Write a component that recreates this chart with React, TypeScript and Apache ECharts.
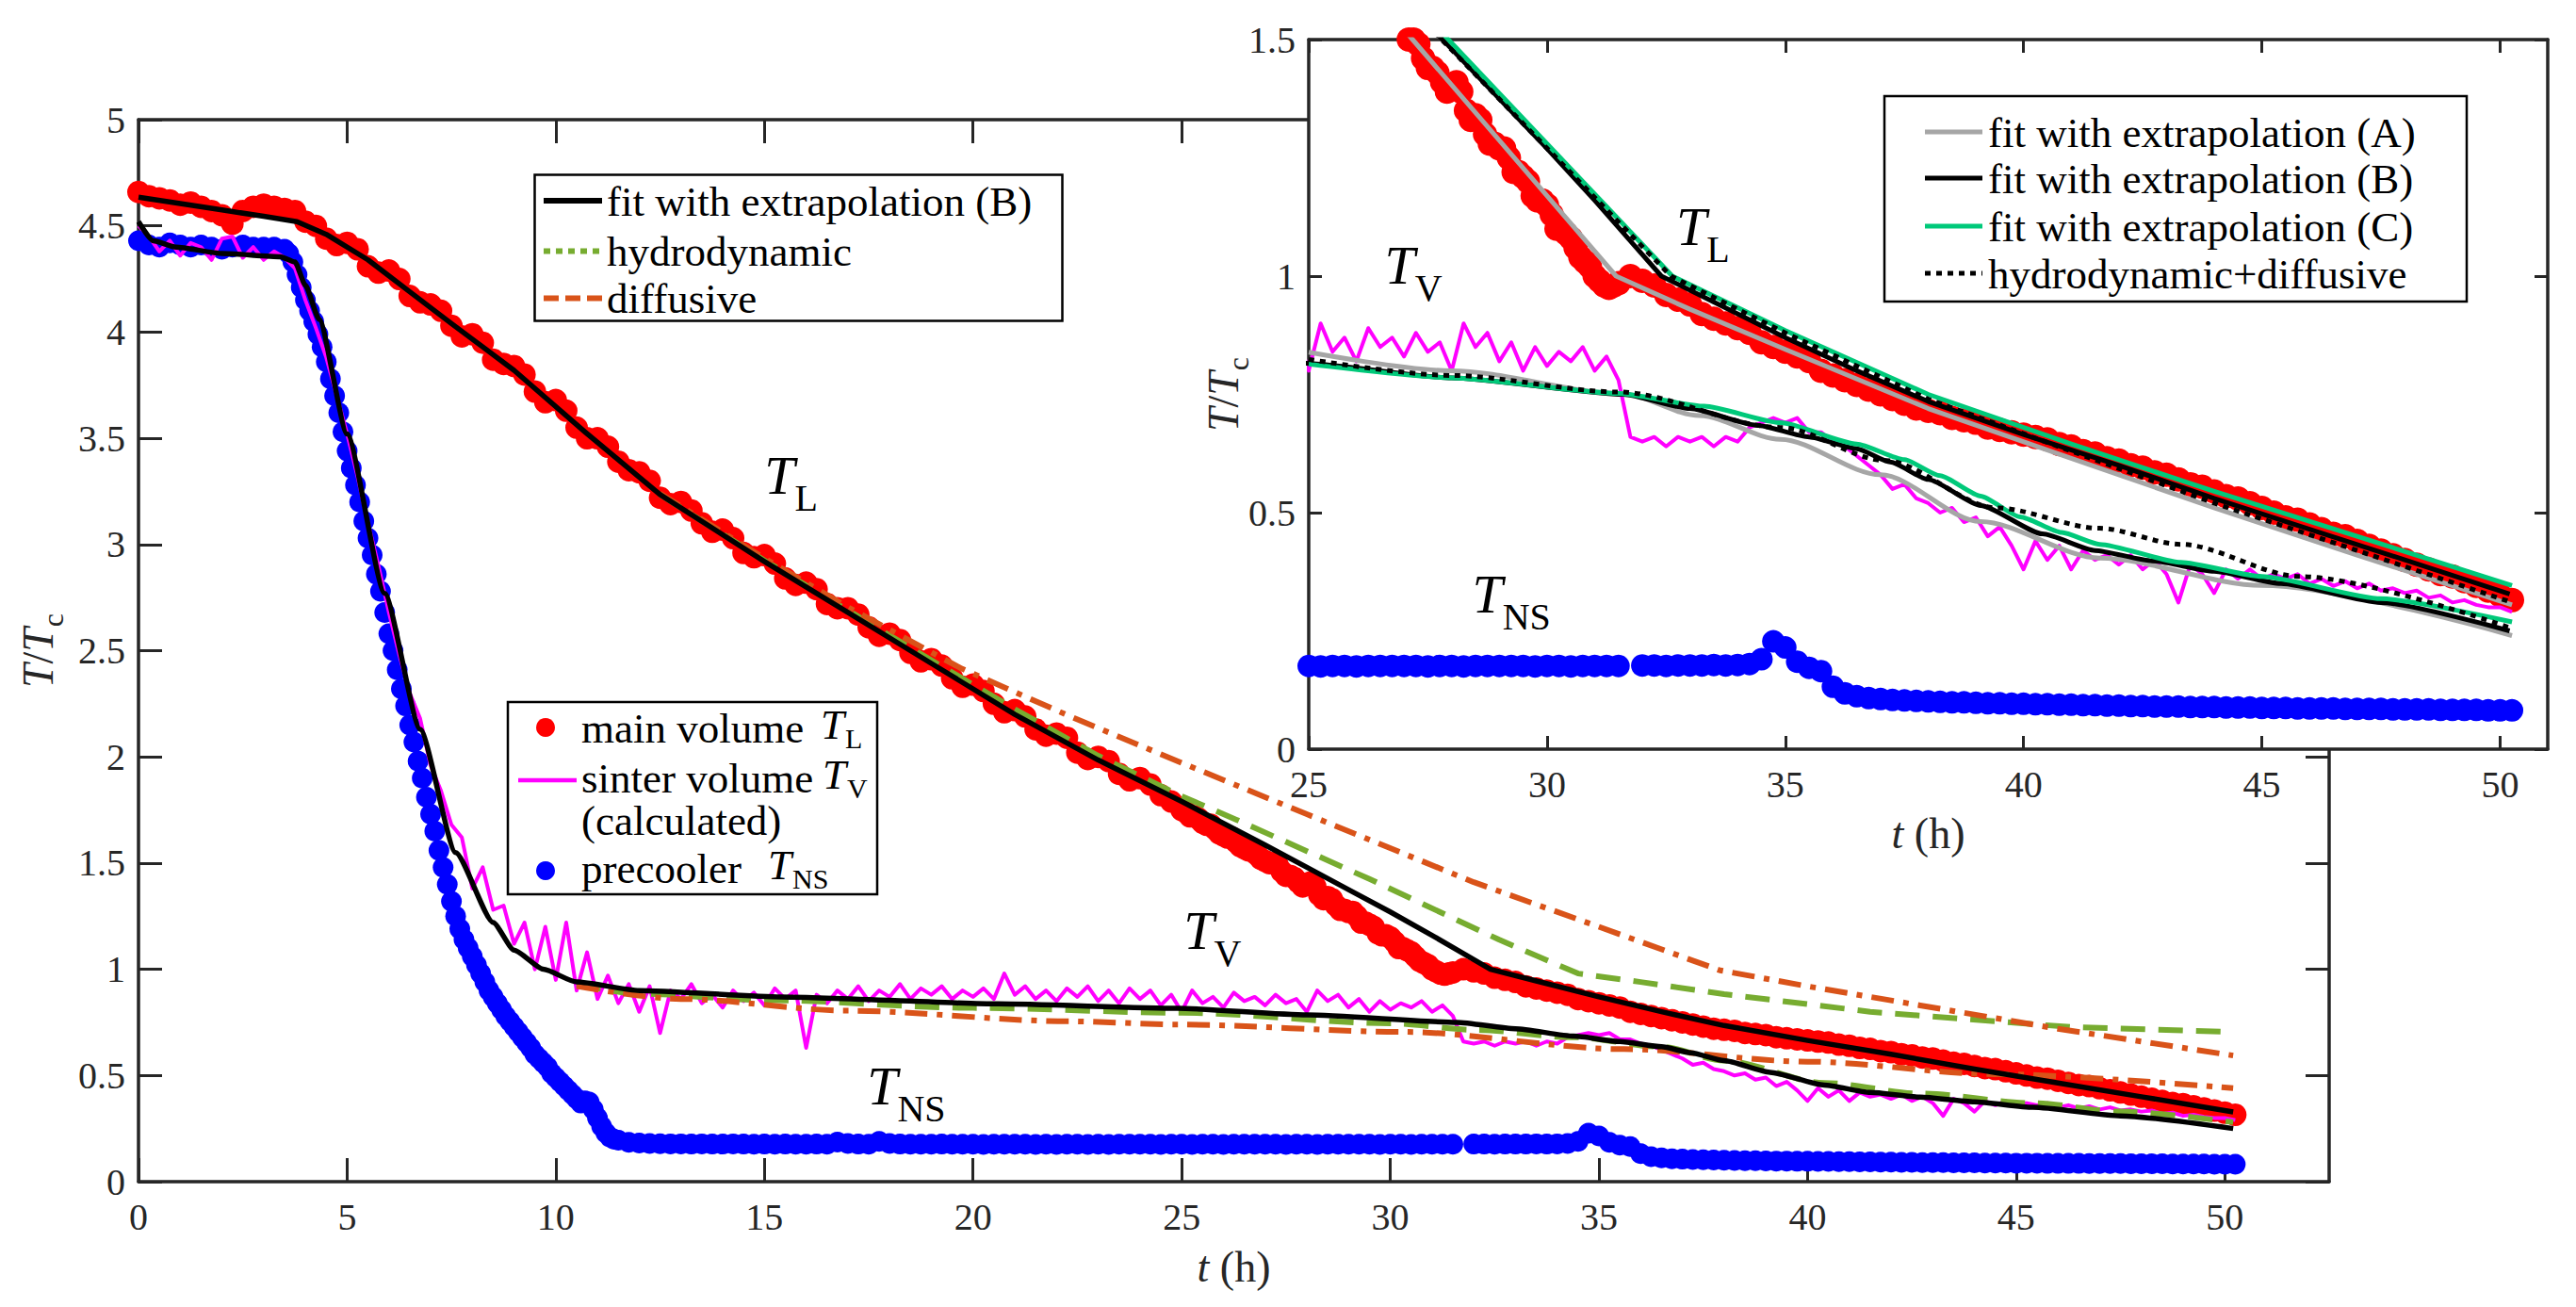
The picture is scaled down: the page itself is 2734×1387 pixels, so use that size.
import React, { useEffect, useRef } from "react";
import * as echarts from "echarts";

const CANVAS_W = 2734;
const CANVAS_H = 1387;
const SERIF = "Liberation Serif";
const INK = "#262626";

const RED = "#ff0000";
const BLUE = "#0000ff";
const MAGENTA = "#ff00ff";
const BLACK = "#000000";
const HYDRO_GREEN = "#77ac30";
const DIFF_ORANGE = "#d95319";
const FIT_A_GRAY = "#a6a6a6";
const FIT_C_GREEN = "#00c97a";

// Tick positions of both panels
const MAIN_T_TICKS = [0, 5, 10, 15, 20, 25, 30, 35, 40, 45, 50];
const MAIN_Y_TICKS = [0, 0.5, 1, 1.5, 2, 2.5, 3, 3.5, 4, 4.5, 5];
const INSET_T_TICKS = [25, 30, 35, 40, 45, 50];
const INSET_Y_TICKS = [0, 0.5, 1, 1.5];

// Logged readings, one every 15 min unless stated otherwise
const SAMPLE_STEP_H = 0.25;

// main volume T_L / T_c, every 15 min from 0 h to 24.75 h
const mainVolumeEarly = [
  4.66, 4.64, 4.63, 4.62, // 0 h
  4.6, 4.61, 4.59, 4.57,
  4.55, 4.51, 4.57, 4.59,
  4.6, 4.59, 4.58, 4.57,
  4.52, 4.5, 4.44, 4.41, // 4 h
  4.42, 4.39, 4.31, 4.28,
  4.29, 4.25, 4.17, 4.14,
  4.13, 4.1, 4.03, 3.98,
  3.99, 3.95, 3.87, 3.85, // 8 h
  3.84, 3.8, 3.72, 3.67,
  3.68, 3.63, 3.55, 3.5,
  3.5, 3.46, 3.39, 3.35,
  3.34, 3.3, 3.22, 3.19, // 12 h
  3.2, 3.16, 3.1, 3.06,
  3.07, 3.03, 2.96, 2.94,
  2.95, 2.91, 2.84, 2.81,
  2.82, 2.79, 2.72, 2.7, // 16 h
  2.7, 2.67, 2.61, 2.57,
  2.58, 2.55, 2.49, 2.45,
  2.46, 2.43, 2.37, 2.33,
  2.34, 2.31, 2.25, 2.21, // 20 h
  2.22, 2.19, 2.13, 2.1,
  2.11, 2.09, 2.02, 1.99,
  2.0, 1.98, 1.92, 1.89,
  1.9, 1.87, 1.82, 1.79, // 24 h
];
// main volume around the knee, every 6 min from 25 h to 31.5 h
const MAIN_KNEE_START_H = 25;
const MAIN_KNEE_STEP_H = 0.1;
const mainVolumeKnee = [
  1.75, 1.74, 1.72, 1.72, 1.71, 1.69, 1.68, 1.68, 1.66, 1.64, // 25 h
  1.63, 1.62, 1.62, 1.6, 1.58, 1.57, 1.56, 1.56, 1.54, 1.52, // 26 h
  1.51, 1.5, 1.5, 1.49, 1.46, 1.44, 1.44, 1.43, 1.41, 1.39, // 27 h
  1.4, 1.41, 1.39, 1.35, 1.33, 1.34, 1.33, 1.3, 1.28, 1.28, // 28 h
  1.27, 1.27, 1.25, 1.22, 1.22, 1.21, 1.2, 1.17, 1.16, 1.16, // 29 h
  1.15, 1.13, 1.1, 1.1, 1.09, 1.08, 1.06, 1.04, 1.03, 1.02, // 30 h
  1.0, 0.99, 0.98, 0.975, 0.98, 0.985, // 31 h
];
// main volume, every 15 min from 31.75 h
const MAIN_LATE_START_H = 31.75;
const mainVolumeLate = [
  1.0, // 31.75 h
  0.99, 0.98, 0.96, 0.95, // 32 h
  0.94, 0.92, 0.91, 0.9,
  0.89, 0.88, 0.86, 0.85,
  0.84, 0.83, 0.82, 0.8,
  0.79, 0.78, 0.77, 0.76, // 36 h
  0.75, 0.74, 0.73, 0.72,
  0.715, 0.71, 0.7, 0.695,
  0.69, 0.68, 0.675, 0.67,
  0.665, 0.66, 0.655, 0.645, // 40 h
  0.64, 0.63, 0.625, 0.615,
  0.61, 0.6, 0.595, 0.585,
  0.58, 0.57, 0.56, 0.555,
  0.545, 0.535, 0.53, 0.52, // 44 h
  0.51, 0.5, 0.49, 0.485,
  0.475, 0.465, 0.455, 0.45,
  0.44, 0.43, 0.42, 0.41,
  0.4, 0.39, 0.38, 0.37, // 48 h
  0.365, 0.355, 0.345, 0.335,
  0.325, 0.315,
];

// precooler T_NS / T_c: plateau before the drop (every 15 min from 0 h)
const precoolerEarly = [
  4.43, 4.41, 4.4, 4.42,
  4.41, 4.4, 4.41, 4.4,
  4.39, 4.4, 4.41, 4.4,
  4.4, 4.4, 4.39,
];
// fast cool-down, logged every 6 min from 3.6 h to 11.5 h
const PRECOOLER_DROP_START_H = 3.6;
const PRECOOLER_DROP_STEP_H = 0.1;
const precoolerDrop = [
  4.37, 4.33, 4.27, 4.21, 4.15, 4.1, 4.05, 3.99, 3.93, 3.86, // 3.6 h
  3.78, 3.7, 3.62, 3.53, 3.44, 3.36, 3.28, 3.2, 3.11, 3.03, // 4.6 h
  2.95, 2.86, 2.78, 2.68, 2.58, 2.5, 2.41, 2.32, 2.24, 2.15, // 5.6 h
  2.07, 1.98, 1.9, 1.81, 1.73, 1.65, 1.56, 1.48, 1.4, 1.32, // 6.6 h
  1.25, 1.19, 1.14, 1.1, 1.06, 1.02, 0.98, 0.94, 0.9, 0.87, // 7.6 h
  0.84, 0.81, 0.78, 0.755, 0.73, 0.705, 0.68, 0.655, 0.63, 0.6, // 8.6 h
  0.58, 0.56, 0.54, 0.51, 0.49, 0.47, 0.45, 0.43, 0.41, 0.39, // 9.6 h
  0.37, 0.38, 0.375, 0.34, 0.3, 0.26, 0.23, 0.21, 0.2, 0.195, // 10.6 h
];
// after the drop, every 15 min from 11.75 h (null: no reading)
const PRECOOLER_LATE_START_H = 11.75;
const precoolerLate = [
  0.185, // 11.75 h
  0.182, 0.18, 0.179, 0.178, // 12 h
  0.178, 0.177, 0.178, 0.177,
  0.177, 0.178, 0.177, 0.176,
  0.177, 0.176, 0.177, 0.176,
  0.176, 0.177, 0.176, 0.186, // 16 h
  0.18, 0.177, 0.176, 0.19,
  0.18, 0.177, 0.176, 0.176,
  0.176, 0.177, 0.176, 0.176,
  0.176, 0.175, 0.176, 0.176, // 20 h
  0.176, 0.176, 0.175, 0.176,
  0.175, 0.176, 0.176, 0.175,
  0.176, 0.175, 0.176, 0.176,
  0.176, 0.176, 0.175, 0.176, // 24 h
  0.176, 0.175, 0.176, 0.176,
  0.175, 0.176, 0.176, 0.176,
  0.176, 0.176, 0.175, 0.176,
  0.176, 0.175, 0.176, 0.176, // 28 h
  0.176, 0.176, 0.176, 0.175,
  0.176, 0.176, 0.175, 0.176,
  0.176, 0.176, 0.176, null,
  0.177, 0.177, 0.176, 0.177, // 32 h
  0.177, 0.177, 0.178, 0.177,
  0.178, 0.18, 0.19, 0.228,
  0.215, 0.185, 0.172, 0.165,
  0.132, 0.118, 0.112, 0.108, // 36 h
  0.106, 0.104, 0.103, 0.102,
  0.101, 0.1, 0.099, 0.099,
  0.098, 0.097, 0.097, 0.096,
  0.096, 0.095, 0.095, 0.094, // 40 h
  0.094, 0.093, 0.093, 0.092,
  0.092, 0.091, 0.091, 0.09,
  0.09, 0.09, 0.089, 0.089,
  0.089, 0.088, 0.088, 0.088, // 44 h
  0.087, 0.087, 0.087, 0.086,
  0.086, 0.086, 0.086, 0.085,
  0.085, 0.085, 0.085, 0.084,
  0.084, 0.084, 0.084, 0.083, // 48 h
  0.083, 0.083, 0.083, 0.082,
  0.082, 0.082,
];

// sinter volume T_V / T_c (calculated), every 15 min from 0 h
const sinterVolumeTV = [
  4.5, 4.45, 4.38, 4.43, // 0 h
  4.36, 4.42, 4.4, 4.34,
  4.44, 4.45, 4.35, 4.4,
  4.34, 4.38, 4.35, 4.3,
  4.15, 4.02, 3.88, 3.7, // 4 h
  3.52, 3.32, 3.1, 2.9,
  2.68, 2.48, 2.3, 2.18,
  1.96, 1.84, 1.68, 1.62,
  1.38, 1.48, 1.28, 1.3, // 8 h
  1.12, 1.22, 1.0, 1.2,
  0.95, 1.22, 0.9, 1.08,
  0.86, 0.97, 0.84, 0.93,
  0.8, 0.92, 0.7, 0.9, // 12 h
  0.86, 0.93, 0.84, 0.88,
  0.82, 0.9, 0.85, 0.89,
  0.83, 0.91, 0.86, 0.9,
  0.63, 0.88, 0.84, 0.9, // 16 h
  0.86, 0.92, 0.85, 0.9,
  0.87, 0.93, 0.86, 0.91,
  0.88, 0.92, 0.86, 0.9,
  0.87, 0.91, 0.86, 0.98, // 20 h
  0.88, 0.92, 0.86, 0.9,
  0.85, 0.91, 0.87, 0.92,
  0.85, 0.9, 0.84, 0.91,
  0.86, 0.9, 0.83, 0.88, // 24 h
  0.8, 0.9, 0.84, 0.87,
  0.82, 0.89, 0.85, 0.87,
  0.83, 0.88, 0.84, 0.86,
  0.8, 0.9, 0.85, 0.88, // 28 h
  0.82, 0.86, 0.8, 0.85,
  0.81, 0.84, 0.82, 0.85,
  0.8, 0.83, 0.78, 0.66,
  0.65, 0.66, 0.64, 0.66, // 32 h
  0.65, 0.66, 0.64, 0.66,
  0.65, 0.68, 0.69, 0.7,
  0.69, 0.7, 0.67, 0.67,
  0.65, 0.64, 0.62, 0.6, // 36 h
  0.58, 0.55, 0.56, 0.53,
  0.52, 0.5, 0.51, 0.48,
  0.49, 0.45, 0.47, 0.43,
  0.38, 0.44, 0.4, 0.43, // 40 h
  0.38, 0.42, 0.4, 0.41,
  0.39, 0.41, 0.38, 0.4,
  0.37, 0.31, 0.39, 0.37,
  0.33, 0.38, 0.36, 0.38, // 44 h
  0.36, 0.37, 0.36, 0.37,
  0.35, 0.36, 0.345, 0.355,
  0.34, 0.35, 0.335, 0.34,
  0.33, 0.335, 0.32, 0.325, // 48 h
  0.31, 0.315, 0.305, 0.3,
  0.3, 0.29,
];

// fit with extrapolation (B)
const fitBLiquidT = [0, 1, 2, 3, 3.8, 4.5, 5.5, 6.5, 7.5, 9, 10.7, 12.5, 15, 17, 19, 21, 23, 25, 27, 28, 29, 30, 31, 32.4, 33.5, 35, 36.5, 38, 40, 42, 44, 46, 48, 50.2];
const fitBLiquid = [4.635, 4.605, 4.575, 4.545, 4.52, 4.46, 4.34, 4.19, 4.04, 3.82, 3.53, 3.235, 2.92, 2.68, 2.44, 2.2, 1.985, 1.79, 1.585, 1.48, 1.375, 1.27, 1.16, 1.0, 0.945, 0.87, 0.8, 0.735, 0.665, 0.6, 0.53, 0.465, 0.4, 0.328];
const fitBSinterT = [0, 0.35, 0.9, 2, 3.4, 3.75, 4.0, 4.33, 5.0, 5.9, 6.75, 7.6, 8.5, 9.0, 9.7, 10.5, 12, 15.4, 20.6, 24.9, 28, 31.6, 33, 34.4, 35.5, 36.5, 37.2, 38, 39.1, 40.4, 41.5, 42.7, 44, 45.4, 47.5, 50.2];
const fitBSinter = [4.52, 4.43, 4.4, 4.37, 4.355, 4.33, 4.22, 4.06, 3.52, 2.77, 2.13, 1.55, 1.22, 1.09, 1.0, 0.94, 0.9, 0.87, 0.837, 0.816, 0.785, 0.75, 0.72, 0.685, 0.66, 0.635, 0.607, 0.57, 0.515, 0.455, 0.42, 0.398, 0.376, 0.35, 0.31, 0.25];

// hydrodynamic extrapolation
const hydroLiquidT = [12.5, 15, 17, 19, 21, 23, 25, 26.3, 29.5, 32.6, 34.5, 36, 38, 41.5, 46.3, 50.2];
const hydroLiquid = [3.235, 2.925, 2.69, 2.455, 2.225, 2.005, 1.815, 1.705, 1.425, 1.14, 0.98, 0.94, 0.883, 0.8, 0.728, 0.705];
const hydroSinterT = [10.5, 12, 15, 20, 25, 30, 32, 34.4, 36.5, 38, 40.4, 42.7, 45.4, 47.5, 50.2];
const hydroSinter = [0.93, 0.885, 0.855, 0.818, 0.795, 0.745, 0.715, 0.68, 0.635, 0.57, 0.465, 0.415, 0.37, 0.33, 0.28];

// diffusive extrapolation
const diffLiquidT = [12.5, 15, 17, 19.7, 22.3, 24.9, 28, 32, 35, 37.9, 40, 42.7, 46, 50.2];
const diffLiquid = [3.24, 2.935, 2.705, 2.418, 2.193, 1.98, 1.73, 1.41, 1.2, 0.995, 0.92, 0.83, 0.72, 0.594];
const diffSinterT = [10.5, 13, 17, 22.3, 24.9, 30.3, 35.6, 40, 44.5, 50.2];
const diffSinter = [0.92, 0.86, 0.805, 0.755, 0.74, 0.705, 0.624, 0.565, 0.506, 0.44];

// fit with extrapolation (A)
const fitALiquidT = [25, 27.18, 31.45, 33, 35, 38, 41, 44, 47, 50.25];
const fitALiquid = [1.755, 1.5, 1.0, 0.93, 0.845, 0.72, 0.615, 0.51, 0.41, 0.305];
const fitASinterT = [25, 28, 31.54, 33.2, 34.9, 37, 39.1, 41.6, 45, 50.25];
const fitASinter = [0.839, 0.8, 0.752, 0.705, 0.655, 0.58, 0.481, 0.404, 0.346, 0.24];

// fit with extrapolation (C)
const fitCLiquidT = [25, 27.93, 32.63, 35, 38, 41, 44, 47, 50.25];
const fitCLiquid = [1.81, 1.5, 1.0, 0.885, 0.75, 0.645, 0.545, 0.45, 0.346];
const fitCSinterT = [25, 28, 31.5, 33.3, 34.9, 36.5, 37.5, 38.25, 39.1, 39.93, 40.8, 41.6, 43.3, 45, 47.5, 50.25];
const fitCSinter = [0.814, 0.785, 0.752, 0.725, 0.69, 0.645, 0.612, 0.578, 0.535, 0.491, 0.458, 0.433, 0.395, 0.365, 0.318, 0.269];

// hydrodynamic+diffusive
const hydroDiffLiquidT = [25, 27.79, 32.6, 35, 38, 41, 44, 47, 50.25];
const hydroDiffLiquid = [1.79, 1.5, 1.0, 0.88, 0.74, 0.63, 0.52, 0.42, 0.31];
const hydroDiffSinterT = [25, 28, 31.5, 34.9, 37.1, 39.43, 41.6, 43.3, 45.8, 50.25];
const hydroDiffSinter = [0.824, 0.79, 0.755, 0.68, 0.61, 0.51, 0.467, 0.433, 0.365, 0.255];

const sampled = (values: (number | null)[], start = 0, step = SAMPLE_STEP_H) =>
  values.flatMap((v, i) => (v == null ? [] : [[start + i * step, v]]));
const paired = (ts: number[], vs: number[]) => ts.map((t, i) => [t, vs[i]]);

const mainVolumePoints = () => [
  ...sampled(mainVolumeEarly),
  ...sampled(mainVolumeKnee, MAIN_KNEE_START_H, MAIN_KNEE_STEP_H),
  ...sampled(mainVolumeLate, MAIN_LATE_START_H),
];
const precoolerPoints = () => [
  ...sampled(precoolerEarly),
  ...sampled(precoolerDrop, PRECOOLER_DROP_START_H, PRECOOLER_DROP_STEP_H),
  ...sampled(precoolerLate, PRECOOLER_LATE_START_H),
];

// ---------- text styles ----------
const axisNameRich = {
  r: { fontFamily: SERIF, fontSize: 46, lineHeight: 56, verticalAlign: "top", color: INK },
  it: { fontFamily: SERIF, fontStyle: "italic", fontSize: 46, lineHeight: 56, verticalAlign: "top", color: INK },
  sub: { fontFamily: SERIF, fontSize: 32, lineHeight: 32, verticalAlign: "top", padding: [23, 0, 0, 1], color: INK },
};
const legendRich = {
  r: { fontFamily: SERIF, fontSize: 45, lineHeight: 44, verticalAlign: "top", fill: "#000" },
  it: { fontFamily: SERIF, fontStyle: "italic", fontSize: 45, lineHeight: 52, verticalAlign: "top", fill: "#000" },
  sub: { fontFamily: SERIF, fontSize: 30, lineHeight: 30, verticalAlign: "top", padding: [22, 0, 0, 1], fill: "#000" },
};
const curveLabelRich = {
  it: { fontFamily: SERIF, fontStyle: "italic", fontSize: 58, lineHeight: 72, verticalAlign: "top", fill: "#000" },
  sub: { fontFamily: SERIF, fontSize: 40, lineHeight: 40, verticalAlign: "top", padding: [33, 0, 0, 0], fill: "#000" },
};

// ---------- axes ----------
function xAxes(gridIndex: number, min: number, max: number, ticks: number[], tickLen: number, z: number, nameGap: number) {
  const common: any = {
    type: "value", gridIndex, min, max, interval: 5, z,
    splitLine: { show: false },
    axisLine: { show: true, onZero: false, lineStyle: { color: INK, width: 3.5 } },
    axisTick: { show: true, inside: true, length: tickLen, customValues: ticks, lineStyle: { color: INK, width: 3 } },
  };
  return [
    {
      ...common, position: "bottom",
      axisLabel: { show: true, customValues: ticks, fontFamily: SERIF, fontSize: 40, color: INK, margin: 17, formatter: (v: number) => String(v) },
      name: "{it|t}{r| (h)}", nameLocation: "middle", nameGap, nameMoveOverlap: false,
      nameTextStyle: { fontFamily: SERIF, fontSize: 46, color: INK, rich: axisNameRich },
    },
    { ...common, position: "top", axisLabel: { show: false } },
  ];
}

function yAxes(gridIndex: number, min: number, max: number, ticks: number[], tickLen: number, z: number, nameGap: number) {
  const common: any = {
    type: "value", gridIndex, min, max, interval: 0.5, z,
    splitLine: { show: false },
    axisLine: { show: true, onZero: false, lineStyle: { color: INK, width: 3.5 } },
    axisTick: { show: true, inside: true, length: tickLen, customValues: ticks, lineStyle: { color: INK, width: 3 } },
  };
  return [
    {
      ...common, position: "left",
      axisLabel: { show: true, customValues: ticks, fontFamily: SERIF, fontSize: 40, color: INK, margin: 14, formatter: (v: number) => String(v) },
      name: "{it|T}{r|/}{it|T}{sub|c}", nameLocation: "middle", nameGap, nameMoveOverlap: false,
      nameTextStyle: { fontFamily: SERIF, fontSize: 46, color: INK, rich: axisNameRich },
    },
    { ...common, position: "right", axisLabel: { show: false } },
  ];
}

// ---------- series ----------
function dots(name: string, data: any[], color: string, axis: number, z: number, size: number) {
  return {
    type: "scatter", name, data, xAxisIndex: axis, yAxisIndex: axis,
    symbol: "circle", symbolSize: size, itemStyle: { color, opacity: 1 }, z, silent: true, clip: true,
  };
}
function curve(name: string, data: any[], color: string, width: number, dash: any, axis: number, z: number, smooth = 0) {
  return {
    type: "line", name, data, xAxisIndex: axis, yAxisIndex: axis,
    symbol: "none", showSymbol: false, smooth: smooth || false, smoothMonotone: "x",
    lineStyle: { color, width, type: dash, join: "round" }, z, silent: true, clip: true,
  };
}

function buildOption() {
  const MAIN = 0;
  const INSET = 2;
  const dashHydro = [26, 14];
  const dashDiff = [24, 10, 6, 10];
  const dotted = [6, 6];
  return {
    animation: false,
    backgroundColor: "#ffffff",
    grid: [
      { left: 147, top: 127, width: 2325, height: 1127, show: false, outerBoundsMode: "none" },
      { left: 1389, top: 42, width: 1315, height: 753, show: true, backgroundColor: "#ffffff", borderWidth: 0, z: 10, outerBoundsMode: "none" },
    ],
    xAxis: [
      ...xAxes(0, 0, 52.5, MAIN_T_TICKS, 25, 1, 67),
      ...xAxes(1, 25, 51, INSET_T_TICKS, 14, 11, 66),
    ],
    yAxis: [
      ...yAxes(0, 0, 5, MAIN_Y_TICKS, 25, 1, 74),
      ...yAxes(1, 0, 1.5, INSET_Y_TICKS, 14, 11, 58),
    ],
    series: [
      // main panel
      dots("main volume T_L", mainVolumePoints(), RED, MAIN, 2, 24),
      dots("precooler T_NS", precoolerPoints(), BLUE, MAIN, 2, 22),
      curve("sinter volume T_V", sampled(sinterVolumeTV), MAGENTA, 4, "solid", MAIN, 3),
      curve("hydrodynamic", paired(hydroLiquidT, hydroLiquid), HYDRO_GREEN, 6, dashHydro, MAIN, 4),
      curve("hydrodynamic", paired(hydroSinterT, hydroSinter), HYDRO_GREEN, 6, dashHydro, MAIN, 4, 0.3),
      curve("diffusive", paired(diffLiquidT, diffLiquid), DIFF_ORANGE, 6, dashDiff, MAIN, 4),
      curve("diffusive", paired(diffSinterT, diffSinter), DIFF_ORANGE, 6, dashDiff, MAIN, 4, 0.3),
      curve("fit with extrapolation (B)", paired(fitBLiquidT, fitBLiquid), BLACK, 5.5, "solid", MAIN, 5),
      curve("fit with extrapolation (B)", paired(fitBSinterT, fitBSinter), BLACK, 5.5, "solid", MAIN, 5, 0.2),
      // inset panel
      dots("main volume T_L", mainVolumePoints(), RED, INSET, 12, 26),
      dots("precooler T_NS", precoolerPoints(), BLUE, INSET, 12, 24),
      curve("sinter volume T_V", sampled(sinterVolumeTV), MAGENTA, 4, "solid", INSET, 13),
      curve("fit with extrapolation (A)", paired(fitALiquidT, fitALiquid), FIT_A_GRAY, 5, "solid", INSET, 14),
      curve("fit with extrapolation (A)", paired(fitASinterT, fitASinter), FIT_A_GRAY, 5, "solid", INSET, 14, 0.3),
      curve("fit with extrapolation (B)", paired(fitBLiquidT, fitBLiquid), BLACK, 5, "solid", INSET, 15),
      curve("fit with extrapolation (B)", paired(fitBSinterT, fitBSinter), BLACK, 5, "solid", INSET, 15, 0.2),
      curve("fit with extrapolation (C)", paired(fitCLiquidT, fitCLiquid), FIT_C_GREEN, 5, "solid", INSET, 16),
      curve("fit with extrapolation (C)", paired(fitCSinterT, fitCSinter), FIT_C_GREEN, 5, "solid", INSET, 16, 0.2),
      curve("hydrodynamic+diffusive", paired(hydroDiffLiquidT, hydroDiffLiquid), BLACK, 5, dotted, INSET, 17),
      curve("hydrodynamic+diffusive", paired(hydroDiffSinterT, hydroDiffSinter), BLACK, 5, dotted, INSET, 17, 0.3),
    ],
  };
}

// ---------- legends and curve labels ----------
const Z_LEGEND = 30;
const frame = (x: number, y: number, w: number, h: number) => ({
  type: "rect", z: Z_LEGEND, shape: { x, y, width: w, height: h },
  style: { fill: "#ffffff", stroke: "#000000", lineWidth: 2.5 },
});
const swatch = (x1: number, x2: number, y: number, color: string, width: number, dash?: number[]) => ({
  type: "line", z: Z_LEGEND + 1, shape: { x1, y1: y, x2, y2: y },
  style: { stroke: color, lineWidth: width, lineDash: dash || null },
});
const marker = (cx: number, cy: number, color: string) => ({
  type: "circle", z: Z_LEGEND + 1, shape: { cx, cy, r: 10 }, style: { fill: color },
});
const entry = (x: number, y: number, text: string) => ({
  type: "text", z: Z_LEGEND + 1, x, y,
  style: { text, rich: legendRich, fill: "#000", align: "left", verticalAlign: "middle" },
});

function buildGraphics(chart: any) {
  const curveLabel = (axis: number, t: number, v: number, main: string, sub: string) => {
    const [x, y] = chart.convertToPixel({ xAxisIndex: axis, yAxisIndex: axis }, [t, v]);
    return {
      type: "text", z: Z_LEGEND + 5, x, y,
      style: { text: `{it|${main}}{sub|${sub}}`, rich: curveLabelRich, fill: "#000", align: "left", verticalAlign: "top" },
    };
  };
  return [
    // model legend of the main panel
    frame(567.5, 185.5, 560, 155),
    swatch(577, 639, 213, BLACK, 6),
    entry(644, 213, "{r|fit with extrapolation (B)}"),
    swatch(577, 639, 266.5, HYDRO_GREEN, 6, [7, 6]),
    entry(644, 266.5, "{r|hydrodynamic}"),
    swatch(577, 639, 316.5, DIFF_ORANGE, 6, [16, 7]),
    entry(644, 316.5, "{r|diffusive}"),
    // data legend of the main panel
    frame(539, 745, 392, 204),
    marker(579, 772, RED),
    entry(617, 772, "{r|main volume}"),
    entry(871, 772, "{it|T}{sub|L}"),
    swatch(550, 612, 828, MAGENTA, 4.5),
    entry(617, 825, "{r|sinter volume}"),
    entry(873, 825, "{it|T}{sub|V}"),
    entry(617, 870, "{r|(calculated)}"),
    marker(579, 924, BLUE),
    entry(617, 921, "{r|precooler}"),
    entry(815, 921, "{it|T}{sub|NS}"),
    // legend of the inset
    frame(2000, 102, 618, 218),
    swatch(2043, 2104, 140, FIT_A_GRAY, 5),
    entry(2110, 140, "{r|fit with extrapolation (A)}"),
    swatch(2043, 2104, 189, BLACK, 5),
    entry(2110, 189, "{r|fit with extrapolation (B)}"),
    swatch(2043, 2104, 240, FIT_C_GREEN, 5),
    entry(2110, 240, "{r|fit with extrapolation (C)}"),
    swatch(2043, 2104, 290, BLACK, 5, [6, 6]),
    entry(2110, 290, "{r|hydrodynamic+diffusive}"),
    // curve labels
    curveLabel(0, 15.0, 3.452, "T", "L"),
    curveLabel(0, 25.05, 1.309, "T", "V"),
    curveLabel(0, 17.46, 0.581, "T", "NS"),
    curveLabel(2, 32.71, 1.163, "T", "L"),
    curveLabel(2, 26.59, 1.081, "T", "V"),
    curveLabel(2, 28.43, 0.385, "T", "NS"),
  ];
}

export default function App() {
  const ref = useRef<HTMLDivElement>(null);
  useEffect(() => {
    const el = ref.current;
    if (!el) return;
    const chart = echarts.init(el, undefined, { renderer: "svg", width: CANVAS_W, height: CANVAS_H });
    chart.setOption(buildOption() as any);
    chart.setOption({ graphic: buildGraphics(chart) } as any);
    return () => chart.dispose();
  }, []);
  return (
    <div
      ref={ref}
      style={{ position: "fixed", left: 0, top: 0, width: CANVAS_W, height: CANVAS_H, background: "#ffffff" }}
    />
  );
}
